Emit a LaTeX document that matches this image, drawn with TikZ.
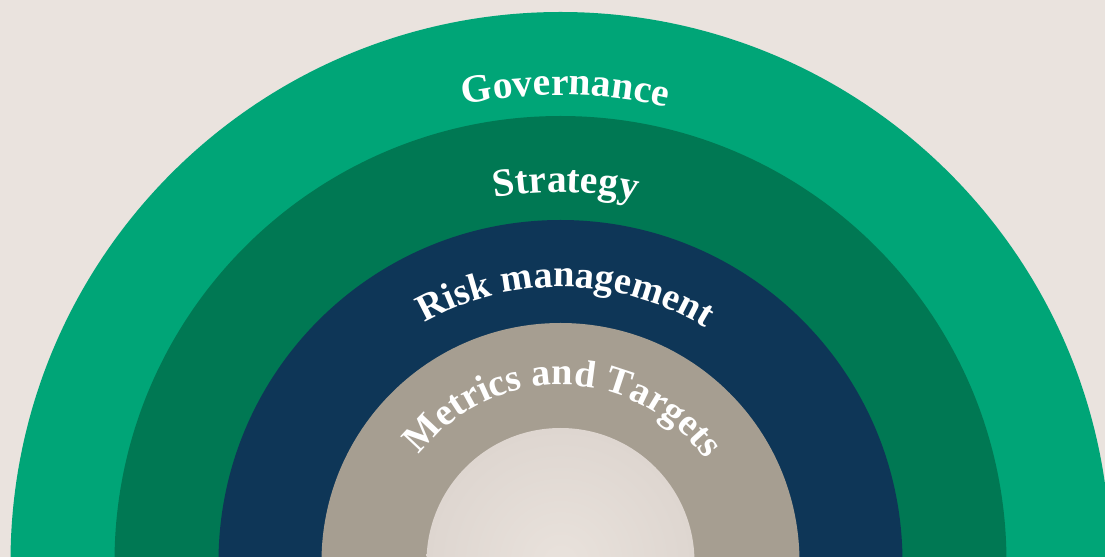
\documentclass[tikz,border=0pt]{standalone}
\usepackage{fontspec}
\newfontfamily\ringfont{Liberation Serif}
\usepackage{tikz}
\usetikzlibrary{calc, decorations.text}
\usepackage{xcolor}

\definecolor{bgcream}{HTML}{EAE3DE}
\definecolor{govgreen}{HTML}{00A577}
\definecolor{stratgreen}{HTML}{007853}
\definecolor{risknavy}{HTML}{0E3657}
\definecolor{metrictan}{HTML}{A69E91}
\definecolor{innerlight}{HTML}{E9E2DC}
\definecolor{innerdark}{HTML}{DED6D0}

\tikzset{
  ringlabel/.style={decorate, decoration={text along path, text align=center,
      text color=white, text={|\ringfont\bfseries\fontsize{22.5}{26}\selectfont|#1}}},
  ringlabelsm/.style={decorate, decoration={text along path, text align=center,
      text color=white, text={|\ringfont\bfseries\fontsize{21.8}{26}\selectfont|#1}}}
}

\begin{document}
\begin{tikzpicture}
  \useasboundingbox (0,0) rectangle (22.1,11.14);
  \fill[bgcream] (0,0) rectangle (22.1,11.14);
  \clip (0,0) rectangle (22.1,11.14);

  \coordinate (C) at (11.21,-0.1);

  % rings, outside in
  \fill[govgreen] (C) circle (11.0);
  \fill[stratgreen] (C) circle (8.92);
  \fill[risknavy] (C) circle (6.84);
  \fill[metrictan] (C) circle (4.78);
  \shade[inner color=innerlight, outer color=innerdark] (C) circle (2.68);

  % labels along the arcs
  \path[ringlabel=Governance] ($(C)+(179.4:9.34)$) arc (179.4:-0.6:9.34);
  \path[ringlabel=Strategy] ($(C)+(179.2:7.4)$) arc (179.2:-0.8:7.4);
  \path[ringlabelsm=Risk management] ($(C)+(179:5.5)$) arc (179:-1:5.5);
  \path[ringlabelsm=Metrics and Targets] ($(C)+(179:3.54)$) arc (179:-1:3.54);
\end{tikzpicture}
\end{document}
